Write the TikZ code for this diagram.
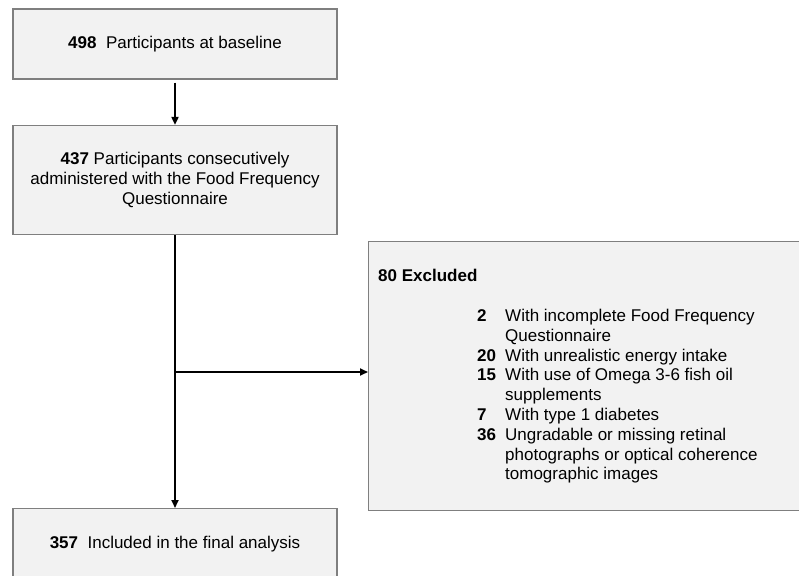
\documentclass[tikz,border=0pt]{standalone}
\usepackage{fontspec}
\setmainfont{Liberation Sans}
\usetikzlibrary{arrows.meta,calc}
\definecolor{boxfill}{HTML}{F2F2F2}
\definecolor{boxline}{HTML}{7F7F7F}
\begin{document}
\begin{tikzpicture}[x=1pt,y=-1pt,
  flowbox/.style={draw=boxline,fill=boxfill,line width=1.2pt,inner sep=0pt,align=center,
    font=\fontsize{17}{19.8}\selectfont},
  conn/.style={line width=1.8pt,-{Triangle[length=8pt,width=7pt]}}]
\useasboundingbox (0,0) rectangle (799,575);
\node[flowbox,minimum width=324pt,minimum height=70pt] (b1) at (175,44) {\textbf{498}~ Participants at baseline};
\node[flowbox,minimum width=324pt,minimum height=109pt] (b2) at (175,180)
  {\textbf{437} Participants consecutively\\administered with the Food Frequency\\Questionnaire};
\node[flowbox,minimum width=324pt,minimum height=70pt,anchor=north] (b3) at (175,508)
  {\textbf{357}~ Included in the final analysis};
\node[flowbox,minimum width=462pt,minimum height=269pt,anchor=north west] (ex) at (368,241) {};
\node[anchor=west,inner sep=0pt,font=\fontsize{17}{19.8}\selectfont\bfseries] (extitle) at (378,275) {80 Excluded};
\node[anchor=north west,inner sep=0pt,align=left,font=\fontsize{17}{19.8}\selectfont] (exlist) at (477,309)
  {\makebox[28pt][l]{\textbf{2}}With incomplete Food Frequency\\
   \makebox[28pt][l]{}Questionnaire\\
   \makebox[28pt][l]{\textbf{20}}With unrealistic energy intake\\
   \makebox[28pt][l]{\textbf{15}}With use of Omega 3-6 fish oil\\
   \makebox[28pt][l]{}supplements\\
   \makebox[28pt][l]{\textbf{7}}With type 1 diabetes\\
   \makebox[28pt][l]{\textbf{36}}Ungradable or missing retinal\\
   \makebox[28pt][l]{}photographs or optical coherence\\
   \makebox[28pt][l]{}tomographic images};
\draw[conn,shorten <=3pt] (b1) -- (b2);
\draw[conn] (b2) -- (b3);
\coordinate (j) at (175,372);
\draw[conn] (j) -- (j -| ex.west);
\end{tikzpicture}
\end{document}
